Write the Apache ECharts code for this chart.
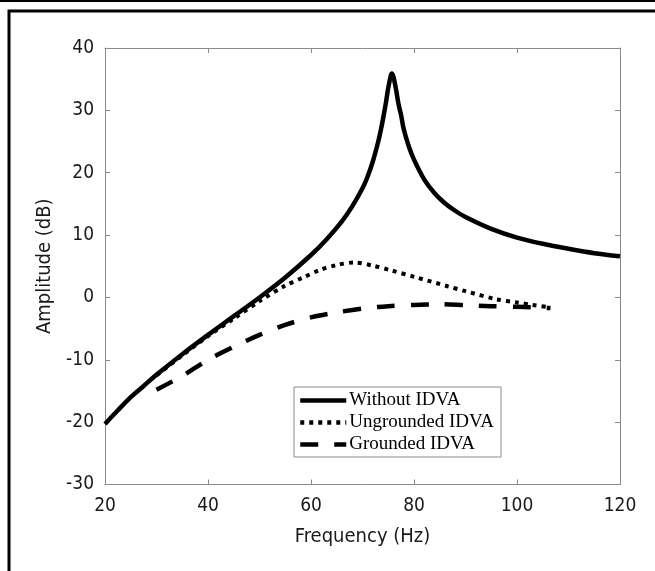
<!DOCTYPE html>
<html>
<head>
<meta charset="utf-8">
<script src="https://cdn.jsdelivr.net/npm/echarts@6/dist/echarts.min.js"></script>
<style>
html,body{margin:0;padding:0;background:#fff;}
#chart{width:655px;height:571px;}
</style>
</head>
<body>
<div id="chart"></div>
<script>
// Frequency (Hz) and amplitude (dB) values
const withoutFreq = [20,22.5,25,27.5,30,35,40,45,50,55,60,63,66,68,70,71,72,73,73.5,74,74.5,75,75.5,75.7,76,76.5,77,77.5,78,79,80,82,84,86,88,90,95,100,105,110,115,120];
const withoutAmp  = [-20.3,-18.1,-16.0,-14.2,-12.4,-9.1,-6.0,-3.0,0.0,3.2,6.8,9.3,12.2,14.6,17.5,19.4,21.8,24.8,26.6,28.7,31.0,33.6,35.6,35.9,35.4,33.4,31.0,29.2,27.0,24.2,22.1,18.9,16.7,15.1,13.9,12.9,11.0,9.6,8.6,7.8,7.1,6.6];

const ungroundedFreq = [30,35,40,45,50,55,58.5,61.7,65,68.5,72,75.3,80.5,86.5,90,96,100,103,106.5];
const ungroundedAmp  = [-12.5,-9.3,-6.2,-3.4,-0.6,1.9,3.2,4.4,5.2,5.6,5.1,4.4,3.2,1.8,1.0,-0.3,-0.8,-1.2,-1.6];

const groundedFreq = [30,35,40,45,50,55,60,65,70,75,80,85,90,95,100,106.5];
const groundedAmp  = [-14.8,-12.6,-10.0,-7.9,-6.0,-4.4,-3.2,-2.4,-1.8,-1.4,-1.2,-1.1,-1.25,-1.4,-1.5,-1.7];

const xTicks = [20,40,60,80,100,120];
const yTicks = [-30,-20,-10,0,10,20,30,40];
const seriesNames = ['Without IDVA','Ungrounded IDVA','Grounded IDVA'];

const pair = (xs, ys) => xs.map((x, i) => [x, ys[i]]);

const sansFont = "'DejaVu Sans Condensed', 'Liberation Sans Narrow', 'Liberation Sans', sans-serif";
const axisGray = '#8a8a8a';
const textColor = '#1a1a1a';

const chart = echarts.init(document.getElementById('chart'), null, {renderer: 'canvas'});

const baseAxis = {
  axisLine: {show: true, onZero: false, lineStyle: {color: axisGray, width: 1}},
  axisTick: {show: true, inside: true, length: 5, lineStyle: {color: axisGray}},
  splitLine: {show: false}
};

chart.setOption({
  animation: false,
  backgroundColor: '#fff',
  grid: {left: 105, top: 48, width: 515, height: 436.5, containLabel: false},
  xAxis: [
    Object.assign({}, baseAxis, {
      type: 'value', min: xTicks[0], max: xTicks[xTicks.length-1], interval: 20,
      position: 'bottom',
      name: 'Frequency (Hz)', nameLocation: 'middle', nameGap: 42,
      nameTextStyle: {fontFamily: sansFont, fontSize: 20, color: textColor},
      axisLabel: {fontFamily: sansFont, fontSize: 19, color: textColor, margin: 12}
    }),
    Object.assign({}, baseAxis, {
      type: 'value', min: xTicks[0], max: xTicks[xTicks.length-1], interval: 20,
      position: 'top', axisLabel: {show: false}
    })
  ],
  yAxis: [
    Object.assign({}, baseAxis, {
      type: 'value', min: yTicks[0], max: yTicks[yTicks.length-1], interval: 10,
      position: 'left',
      name: 'Amplitude (dB)', nameLocation: 'middle', nameGap: 46, nameRotate: 90,
      nameTextStyle: {fontFamily: sansFont, fontSize: 20, color: textColor},
      axisLabel: {fontFamily: sansFont, fontSize: 19, color: textColor, margin: 11}
    }),
    Object.assign({}, baseAxis, {
      type: 'value', min: yTicks[0], max: yTicks[yTicks.length-1], interval: 10,
      position: 'right', axisLabel: {show: false}
    })
  ],
  legend: {
    show: true,
    orient: 'vertical',
    left: 294, top: 387,
    padding: [4, 7, 3, 4],
    itemGap: 3,
    itemWidth: 46, itemHeight: 19,
    backgroundColor: '#fff',
    borderColor: '#8a8a8a', borderWidth: 1,
    itemStyle: {opacity: 0},
    lineStyle: {width: 4.5, cap: 'butt'},
    textStyle: {fontFamily: "'Liberation Serif', 'Times New Roman', serif", fontSize: 19, color: '#000', padding: [0,0,0,-2]},
    data: seriesNames
  },
  graphic: [
    {type: 'rect', shape: {x: 0, y: 0, width: 655, height: 2}, style: {fill: '#000'}, silent: true},
    {type: 'polyline', shape: {points: [[9, 571], [9, 11], [655, 11]]}, style: {stroke: '#000', lineWidth: 3, fill: null}, silent: true}
  ],
  series: [
    {
      name: seriesNames[0], type: 'line', data: pair(withoutFreq, withoutAmp),
      showSymbol: false, symbol: 'none', smooth: 0.3, clip: true,
      lineStyle: {color: '#000', width: 4.5, type: 'solid'}, itemStyle: {color: '#000'}
    },
    {
      name: seriesNames[1], type: 'line', data: pair(ungroundedFreq, ungroundedAmp),
      showSymbol: false, symbol: 'none', smooth: 0.3,
      lineStyle: {color: '#000', width: 4, type: [4, 5], cap: 'butt'}, itemStyle: {color: '#000'}
    },
    {
      name: seriesNames[2], type: 'line', data: pair(groundedFreq, groundedAmp),
      showSymbol: false, symbol: 'none', smooth: 0.3,
      lineStyle: {color: '#000', width: 4.5, type: [18, 16], cap: 'butt'}, itemStyle: {color: '#000'}
    }
  ]
});
</script>
</body>
</html>
